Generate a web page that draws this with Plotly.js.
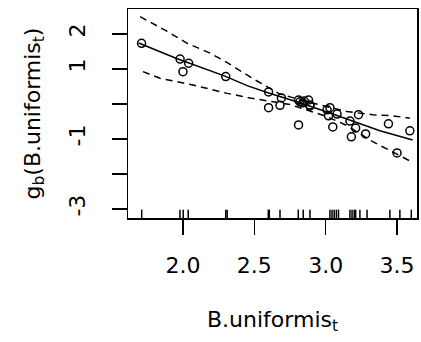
<!DOCTYPE html>
<html>
<head>
<meta charset="utf-8">
<script src="https://cdn.plot.ly/plotly-3.0.1.min.js"></script>
<style>
html,body{margin:0;padding:0;background:#fff;}
#chart{width:421px;height:342px;}
</style>
</head>
<body>
<div id="chart"></div>
<script>
// Partial residual points
const pointX = [1.71, 1.98, 2.04, 2.00, 2.30, 2.60, 2.60, 2.68, 2.69, 2.81, 2.81, 2.82, 2.84, 2.85, 2.88, 2.89, 2.89, 3.01, 3.03, 3.02, 3.05, 3.08, 3.17, 3.21, 3.18, 3.23, 3.28, 3.44, 3.59, 3.50];
const pointY = [1.73, 1.28, 1.16, 0.92, 0.78, 0.34, -0.11, -0.04, 0.17, -0.60, 0.11, 0.06, 0.03, 0.08, 0.11, -0.03, -0.06, -0.17, -0.11, -0.34, -0.66, -0.29, -0.49, -0.69, -0.94, -0.31, -0.86, -0.57, -0.77, -1.40];

// Fitted term
const fitX = [1.69, 1.96, 2.29, 2.45, 2.60, 2.82, 3.03, 3.20, 3.38, 3.61];
const fitY = [1.74, 1.29, 0.80, 0.52, 0.31, 0.03, -0.26, -0.50, -0.77, -1.03];

// Upper / lower bands
const upperX = [1.70, 1.89, 2.03, 2.19, 2.31, 2.49, 2.67, 2.85, 2.96, 3.15, 3.33, 3.47, 3.59];
const upperY = [2.49, 2.07, 1.73, 1.45, 1.18, 0.72, 0.30, 0.08, -0.03, -0.22, -0.31, -0.34, -0.41];
const lowerX = [1.72, 1.84, 2.07, 2.19, 2.31, 2.47, 2.75, 3.00, 3.15, 3.33, 3.43, 3.60];
const lowerY = [0.92, 0.73, 0.54, 0.42, 0.30, 0.17, -0.02, -0.35, -0.62, -1.08, -1.29, -1.65];

// Rug positions
const rugX = [1.711, 1.979, 2.002, 2.037, 2.300, 2.310, 2.598, 2.605, 2.680, 2.808, 2.843, 2.890, 3.030, 3.045, 3.060, 3.075, 3.090, 3.170, 3.185, 3.200, 3.210, 3.240, 3.290, 3.450, 3.520, 3.600];

const xTickVals = [2.0, 2.5, 3.0, 3.5];
const xTickText = ["2.0", "2.5", "3.0", "3.5"];
const yTickVals = [-3, -1, 1, 2];
const yTickText = ["-3", "-1", "1", "2"];
const yMinorTickVals = [-2, 0];

const FONT = "DejaVu Sans, Verdana, sans-serif";
const FS = 22;

const traces = [
  {x: fitX, y: fitY, mode: "lines", line: {color: "#000", width: 1.5}, hoverinfo: "skip"},
  {x: upperX, y: upperY, mode: "lines", line: {color: "#000", width: 1.5, dash: "7px,5px"}, hoverinfo: "skip"},
  {x: lowerX, y: lowerY, mode: "lines", line: {color: "#000", width: 1.5, dash: "7px,5px"}, hoverinfo: "skip"},
  {x: pointX, y: pointY, mode: "markers", marker: {symbol: "circle-open", size: 8, color: "#000", line: {width: 1.5}}, hoverinfo: "skip"}
];

const shapes = rugX.map(v => ({
  type: "line", xref: "x", yref: "paper", x0: v, x1: v, y0: 0, y1: 0.04,
  line: {color: "#000", width: 1.5}
}));

const layout = {
  width: 421, height: 342,
  margin: {l: 128, r: 4, t: 9, b: 124},
  paper_bgcolor: "#fff", plot_bgcolor: "#fff",
  showlegend: false,
  font: {family: FONT, color: "#000", size: FS},
  shapes: shapes,
  xaxis: {
    range: [1.615, 3.64], showgrid: false, zeroline: false,
    showline: true, mirror: true, linecolor: "#000", linewidth: 1.5,
    ticks: "outside", ticklen: 15, tickwidth: 1.5, tickcolor: "#000",
    tickmode: "array", tickvals: xTickVals, ticktext: xTickText,
    ticklabelstandoff: 12,
    tickfont: {size: FS, family: FONT, color: "#000"},
    title: {text: "B.uniformis<sub>t</sub>", font: {size: FS, family: FONT, color: "#000"}, standoff: 34}
  },
  yaxis: {
    range: [-3.26, 2.71], showgrid: false, zeroline: false,
    showline: true, mirror: true, linecolor: "#000", linewidth: 1.5,
    ticks: "outside", ticklen: 15, tickwidth: 1.5, tickcolor: "#000",
    tickmode: "array", tickvals: yTickVals, ticktext: yTickText, tickangle: -90,
    ticklabelstandoff: 18,
    minor: {tickmode: "array", tickvals: yMinorTickVals, ticks: "outside", ticklen: 15, tickwidth: 1.5, tickcolor: "#000", showgrid: false},
    tickfont: {size: FS, family: FONT, color: "#000"},
    title: {text: "g<sub>b</sub>(B.uniformis<sub>t</sub>)", font: {size: FS, family: FONT, color: "#000"}, standoff: 18}
  }
};

Plotly.newPlot("chart", traces, layout, {staticPlot: true, displayModeBar: false});
</script>
</body>
</html>
